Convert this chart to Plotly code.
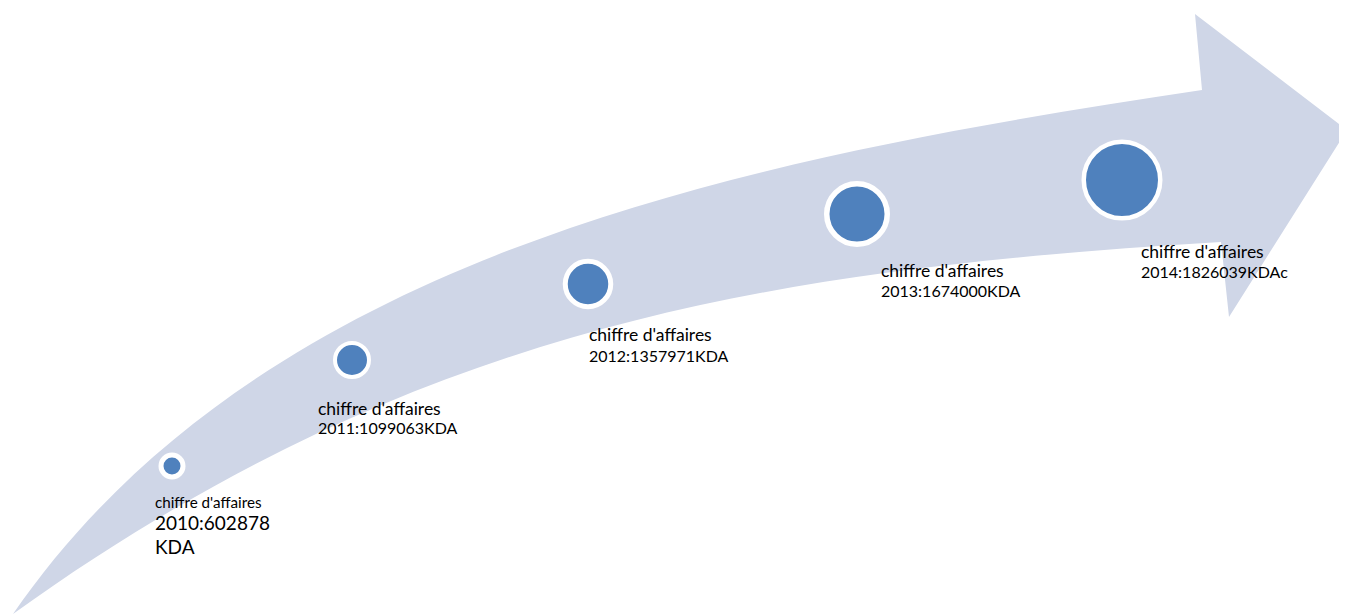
import plotly.graph_objects as go

# ---- data ----
years = [2010, 2011, 2012, 2013, 2014]
values = [602878, 1099063, 1357971, 1674000, 1826039]
suffixes = ["KDA", "KDA", "KDA", "KDA", "KDAc"]
label_title = "chiffre d'affaires"

# ---- layout (pixel space of the 1347x616 window; page body has an 8px margin) ----
W, H = 1347, 616
OFF = 8
circle_x = [172, 352, 588, 857, 1122]
circle_y = [466, 360, 284, 214, 180]
circle_size = [22, 34, 45.5, 60.5, 76.5]
circle_line = [5, 4, 5, 5.5, 4.5]
label_x = [153, 316, 587, 879, 1139]
label_y1 = [502, 408, 334, 270, 251]
label_y2 = [522, 427, 355, 290, 271]

ARROW_FILL = "#CFD6E7"
DOT = "#4F81BD"

# arrow outline: cubic bezier edges + straight arrow head
up_start, up_c1, up_c2, up_end = (13, 614), (263, 251.5), (752, 157.5), (1202, 90)
lo_start, lo_c1, lo_c2, lo_end = (13, 614), (413, 326), (771, 269), (1221, 242)
head = [(1195, 14), (1347, 130), (1229, 317)]


def pt(p):
    return f"{p[0]},{p[1]}"


path = f"M {pt(up_start)} C {pt(up_c1)} {pt(up_c2)} {pt(up_end)}"
for p in head:
    path += f" L {pt(p)}"
path += f" L {pt(lo_end)} C {pt(lo_c2)} {pt(lo_c1)} {pt(lo_start)} Z"

fig = go.Figure()
fig.add_shape(type="path", path=path, xref="x", yref="y",
              fillcolor=ARROW_FILL, line=dict(width=0), layer="below")

fig.add_trace(go.Scatter(
    x=circle_x, y=circle_y, mode="markers",
    marker=dict(size=circle_size, color=DOT, opacity=1,
                line=dict(color="white", width=circle_line)),
    customdata=list(zip(years, values)),
    hovertemplate="%{customdata[0]}: %{customdata[1]} KDA<extra></extra>",
    showlegend=False,
))

FONT = "Lato, Carlito, Calibri, sans-serif"


def label(x, y, text, size):
    fig.add_annotation(x=x, y=y, text=text, showarrow=False, xanchor="left", yanchor="middle",
                       font=dict(family=FONT, size=size, color="#000"))


for i, (yr, val, suf) in enumerate(zip(years, values, suffixes)):
    if i == 0:
        label(label_x[i], label_y1[i], label_title, 15.2)
        label(label_x[i], label_y2[i], f"{yr}:{val}", 19)
        label(label_x[i], 546, suf, 19)
    else:
        label(label_x[i], label_y1[i], label_title, 17.5)
        label(label_x[i], label_y2[i], f"{yr}:{val}{suf}", 16)

fig.update_xaxes(range=[OFF, W], visible=False, fixedrange=True)
fig.update_yaxes(range=[H, OFF], visible=False, fixedrange=True)
fig.update_layout(width=W - OFF, height=H - OFF, margin=dict(l=0, r=0, t=0, b=0),
                  paper_bgcolor="white", plot_bgcolor="white", showlegend=False)
fig.write_html("out.html")
